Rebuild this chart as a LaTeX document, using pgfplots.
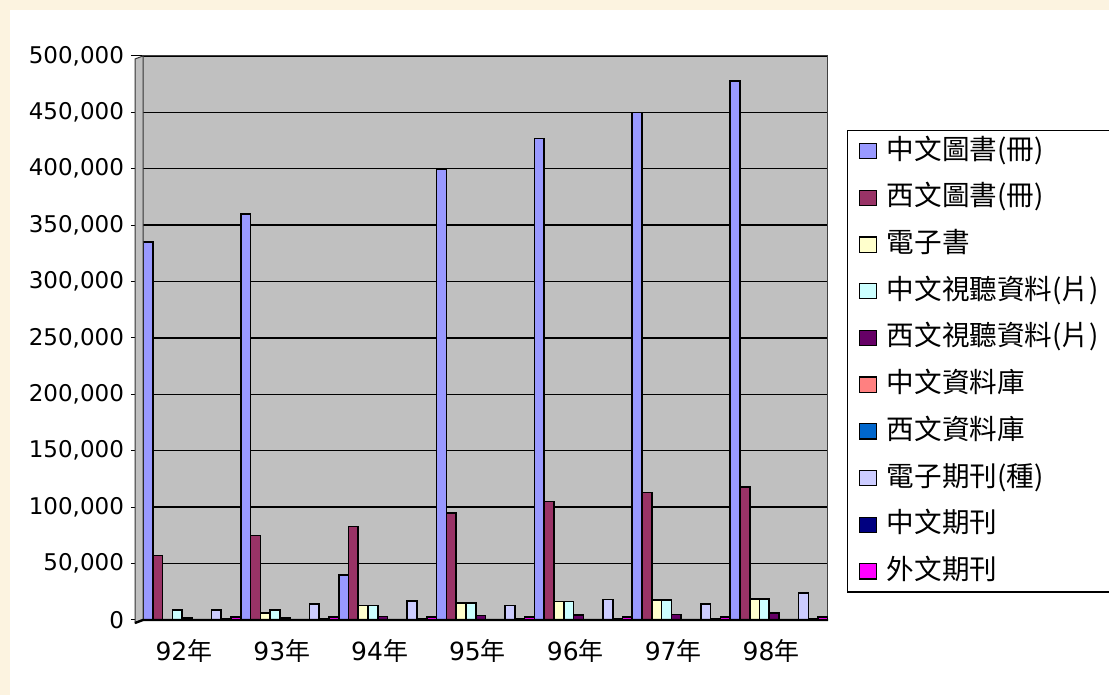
\documentclass[border=0pt]{standalone}
\usepackage{fontspec}
\setmainfont{DejaVu Sans}
\newfontfamily\cjk{Noto Sans CJK TC}
\usepackage{pgfplots}
\usepackage{pgfplotstable}
\pgfplotsset{compat=1.18}
\definecolor{cream}{HTML}{FCF3E0}
\definecolor{plotgray}{HTML}{C0C0C0}
\definecolor{c1}{HTML}{9999FF}
\definecolor{c2}{HTML}{993366}
\definecolor{c3}{HTML}{FFFFCC}
\definecolor{c4}{HTML}{CCFFFF}
\definecolor{c5}{HTML}{660066}
\definecolor{c6}{HTML}{FF8080}
\definecolor{c7}{HTML}{0066CC}
\definecolor{c8}{HTML}{CCCCFF}
\definecolor{c9}{HTML}{000080}
\definecolor{c10}{HTML}{FF00FF}
\pgfplotstableread{
x s1 s2 s3 s4 s5 s6 s7 s8 s9 s10
0 335000 57000 0 9000 2000 500 500 9000 1500 2500
1 360000 75000 6000 9000 2000 500 500 14000 1500 2500
2 40000 83000 13000 13000 3000 500 500 17000 1500 2500
3 400000 95000 15000 15000 4000 500 500 13000 1500 2500
4 427000 105000 16500 16500 4500 500 500 18000 1500 2500
5 450000 113000 17500 17500 5000 500 500 14000 1500 2500
6 478000 118000 18500 18500 6000 500 500 24000 1500 2500
}\datatable
\pgfplotsset{
  mylegend/.style={legend image code/.code={\draw[##1, draw=black, line width=0.6pt] (0pt,-3.8pt) rectangle (8.5pt,3.8pt);}},
  mybar/.style={draw=black, line width=0.8pt, mylegend}
}
\begin{document}
\begin{tikzpicture}
\useasboundingbox (0,0) rectangle (554.5pt,347.5pt);
\fill[cream] (0,0) rectangle (554.5pt,347.5pt);
\fill[white] (5pt,0) rectangle (554.5pt,342.5pt);
\begin{axis}[
  at={(71.5pt,37.5pt)}, anchor=south west, scale only axis,
  width=342.5pt, height=282pt,
  xmin=-0.5, xmax=6.5, ymin=0, ymax=500000,
  ybar, bar width=0.1,
  axis background/.style={fill=plotgray},
  axis line style={draw=gray!50!black, line width=0.5pt},
  ymajorgrids, grid style={black, line width=0.7pt},
  ytick={0,50000,...,500000},
  scaled y ticks=false,
  yticklabel style={font=\fontsize{11.5}{13}\selectfont, /pgf/number format/.cd, fixed, 1000 sep={,}, assume math mode=true},
  xtick={0,...,6},
  xticklabels={92{\cjk 年},93{\cjk 年},94{\cjk 年},95{\cjk 年},96{\cjk 年},97{\cjk 年},98{\cjk 年}},
  xtick style={draw=none},
  ytick pos=left, tick align=outside, major tick length=6pt,
  ytick style={black, line width=0.5pt},
  xticklabel style={font=\fontsize{12.5}{14}\selectfont, xshift=-4pt, yshift=0pt},
  legend cell align=left,
  legend style={at={(1.0277,0.8688)}, anchor=north west, draw=black, line width=0.7pt,
    fill=white, inner xsep=5.5pt, inner ysep=3.75pt, row sep=10.35pt, column sep=5pt,
    nodes={inner sep=0pt, text height=10.5pt, text depth=2.5pt, font=\cjk\fontsize{13.8}{15}\selectfont}},
]
\addplot[mybar, fill=c1, bar shift=-0.45] table[x=x,y=s1] {\datatable};
\addplot[mybar, fill=c2, bar shift=-0.35] table[x=x,y=s2] {\datatable};
\addplot[mybar, fill=c3, bar shift=-0.25] table[x=x,y=s3] {\datatable};
\addplot[mybar, fill=c4, bar shift=-0.15] table[x=x,y=s4] {\datatable};
\addplot[mybar, fill=c5, bar shift=-0.05] table[x=x,y=s5] {\datatable};
\addplot[mybar, fill=c6, bar shift=0.05] table[x=x,y=s6] {\datatable};
\addplot[mybar, fill=c7, bar shift=0.15] table[x=x,y=s7] {\datatable};
\addplot[mybar, fill=c8, bar shift=0.25] table[x=x,y=s8] {\datatable};
\addplot[mybar, fill=c9, bar shift=0.35] table[x=x,y=s9] {\datatable};
\addplot[mybar, fill=c10, bar shift=0.45] table[x=x,y=s10] {\datatable};
\legend{中文圖書(冊),西文圖書(冊),電子書,中文視聽資料(片),西文視聽資料(片),中文資料庫,西文資料庫,電子期刊(種),中文期刊,外文期刊}
\end{axis}
\filldraw[fill=plotgray, draw=gray!40!black, line width=0.5pt] (67.5pt,36pt) -- (71.5pt,37.5pt) -- (71.5pt,319.5pt) -- (67.5pt,318pt) -- cycle;
\draw[black, line width=1.2pt] (67.5pt,36pt) -- (71.5pt,37.5pt) -- (414pt,37.5pt);
\end{tikzpicture}
\end{document}
